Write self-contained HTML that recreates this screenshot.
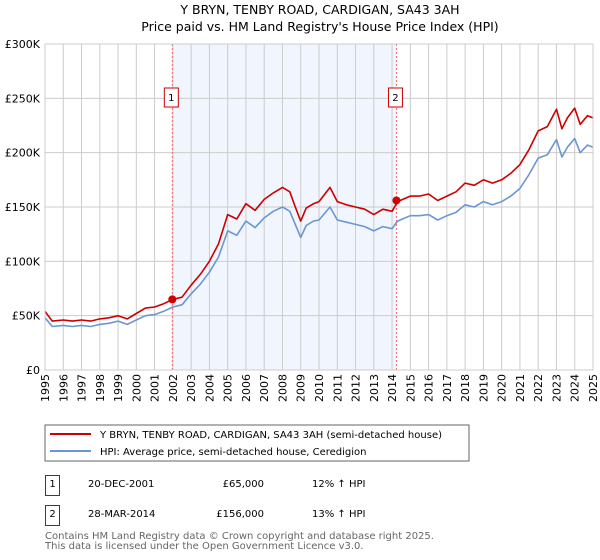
<!DOCTYPE html>
<html><head><meta charset="utf-8"><style>
body{margin:0;background:#fff;font-family:"Liberation Sans","DejaVu Sans",sans-serif;}
#wrap{position:relative;width:600px;height:560px;overflow:hidden;}
text{font-family:"DejaVu Sans","Liberation Sans",sans-serif;}
</style></head><body>
<div id="wrap">
<svg id="chart" width="600" height="560">
<text x="320" y="14" text-anchor="middle" font-size="12.5" fill="#000">Y BRYN, TENBY ROAD, CARDIGAN, SA43 3AH</text>
<text x="320" y="31" text-anchor="middle" font-size="12.5" fill="#000">Price paid vs. HM Land Registry's House Price Index (HPI)</text>
<g id="grid"></g><g id="marks"></g><g id="axes"></g>
<g>
<rect x="45" y="425" width="424" height="36" fill="#fff" stroke="#666" stroke-width="1"/>
<line x1="50" y1="434" x2="91" y2="434" stroke="#cc0000" stroke-width="2"/>
<text x="100" y="438" font-size="10">Y BRYN, TENBY ROAD, CARDIGAN, SA43 3AH (semi-detached house)</text>
<line x1="50" y1="451" x2="91" y2="451" stroke="#6a97d1" stroke-width="2"/>
<text x="100" y="455" font-size="10">HPI: Average price, semi-detached house, Ceredigion</text>
</g>
<g font-size="10">
<rect x="45.5" y="475.5" width="14" height="20" fill="#fff" stroke="#cc0000"/><text x="52.5" y="487" text-anchor="middle">1</text>
<text x="88" y="487">20-DEC-2001</text><text x="264" y="487" text-anchor="end">£65,000</text><text x="312" y="487">12% ↑ HPI</text>
<rect x="45.5" y="505.5" width="14" height="20" fill="#fff" stroke="#cc0000"/><text x="52.5" y="517" text-anchor="middle">2</text>
<text x="88" y="517">28-MAR-2014</text><text x="264" y="517" text-anchor="end">£156,000</text><text x="312" y="517">13% ↑ HPI</text>
</g>
<text x="45" y="539" font-size="10" fill="#666">Contains HM Land Registry data © Crown copyright and database right 2025.</text>
<text x="45" y="549" font-size="10" fill="#666">This data is licensed under the Open Government Licence v3.0.</text>
</svg>
</div>
<script>
const times=[1995,1995.4,1996,1996.5,1997,1997.5,1998,1998.5,1999,1999.5,2000,2000.5,2001,2001.5,2002,2002.5,2003,2003.5,2004,2004.5,2005,2005.5,2006,2006.5,2007,2007.5,2008,2008.4,2008.7,2009,2009.3,2009.7,2010,2010.6,2011,2011.5,2012,2012.5,2013,2013.5,2014,2014.3,2015,2015.5,2016,2016.5,2017,2017.5,2018,2018.5,2019,2019.5,2020,2020.5,2021,2021.5,2022,2022.5,2023,2023.3,2023.6,2024,2024.3,2024.7,2025];
const hpiValues=[48,40,41,40,41,40,42,43,45,42,46,50,51,54,58,60,70,79,90,104,128,124,137,131,140,146,150,146,134,122,133,137,138,150,138,136,134,132,128,132,130,137,142,142,143,138,142,145,152,150,155,152,155,160,167,180,195,198,212,196,205,213,200,207,205];
const priceValues=[54,45,46,45,46,45,47,48,50,47,52,57,58,61,65,67,78,88,100,116,143,139,153,147,157,163,168,164,150,137,149,153,155,168,155,152,150,148,143,148,146,155,160,160,162,156,160,164,172,170,175,172,175,181,189,203,220,224,240,222,232,241,226,234,232];
const saleTimes=[2001.97,2014.24];
const salePrices=[65,156];
const saleLabels=["1","2"];
const yTicks=[0,50,100,150,200,250,300];
const yTickLabels=["£0","£50K","£100K","£150K","£200K","£250K","£300K"];
const xYears=[];for(let y=1995;y<=2025;y++)xYears.push(y);

const X0=45,X1=593,Y0=370,Y1=44;
const xs=t=>X0+(t-1995)/30*(X1-X0);
const ys=v=>Y0-v/300*(Y0-Y1);
const NS="http://www.w3.org/2000/svg";
function mk(tag,attrs,parent){const e=document.createElementNS(NS,tag);for(const k in attrs)e.setAttribute(k,attrs[k]);parent.appendChild(e);return e;}
const grid=document.getElementById('grid'),marks=document.getElementById('marks'),axes=document.getElementById('axes');

const shade=mk('rect',{x:xs(saleTimes[0]),y:Y1,width:xs(saleTimes[1])-xs(saleTimes[0]),height:Y0-Y1,fill:'#eef3fc',opacity:0.8},grid);


xYears.forEach(y=>{
  const l=mk('line',{x1:xs(y),x2:xs(y),y1:Y1,y2:Y0,stroke:'#cccccc','stroke-width':1},grid);
  
  
  const t=mk('text',{transform:`translate(${xs(y)+4},${Y0+4}) rotate(-90)`,'text-anchor':'end','font-size':11},axes);
  t.textContent=y;
  
  
});
yTicks.forEach((v,i)=>{
  const l=mk('line',{x1:X0,x2:X1,y1:ys(v),y2:ys(v),stroke:'#cccccc','stroke-width':1},grid);
  
  
  const t=mk('text',{x:X0-5,y:ys(v)+4,'text-anchor':'end','font-size':11},axes);
  t.textContent=yTickLabels[i];
  
  
});
saleTimes.forEach((t,i)=>{
  const l=mk('line',{x1:xs(t),x2:xs(t),y1:Y1,y2:Y0,stroke:'#ff6666','stroke-width':1,'stroke-dasharray':'2,2'},marks);
  
  
});
function path(vals,color,name){
  const d=times.map((t,i)=>(i?'L':'M')+xs(t).toFixed(1)+','+ys(vals[i]).toFixed(1)).join('');
  const p=mk('path',{d:d,fill:'none',stroke:color,'stroke-width':1.6,'stroke-linejoin':'round'},marks);
  
  
}
path(hpiValues,'#6a97d1','hpi-line');
path(priceValues,'#cc0000','price-paid-line');
saleTimes.forEach((t,i)=>{
  const c=mk('circle',{cx:xs(t),cy:ys(salePrices[i]),r:4,fill:'#cc0000'},marks);
  
  
  const b=mk('rect',{x:xs(t)-8,y:88,width:14,height:19,fill:'#fff',stroke:'#cc0000'},marks);
  
  
  const tx=mk('text',{x:xs(t)-1,y:101,'text-anchor':'middle','font-size':10},marks);
  tx.textContent=saleLabels[i];
  
  
});
const ax=mk('rect',{x:X0,y:Y1,width:X1-X0,height:Y0-Y1,fill:'none',stroke:'#cccccc'},axes);


</script>
</body></html>
